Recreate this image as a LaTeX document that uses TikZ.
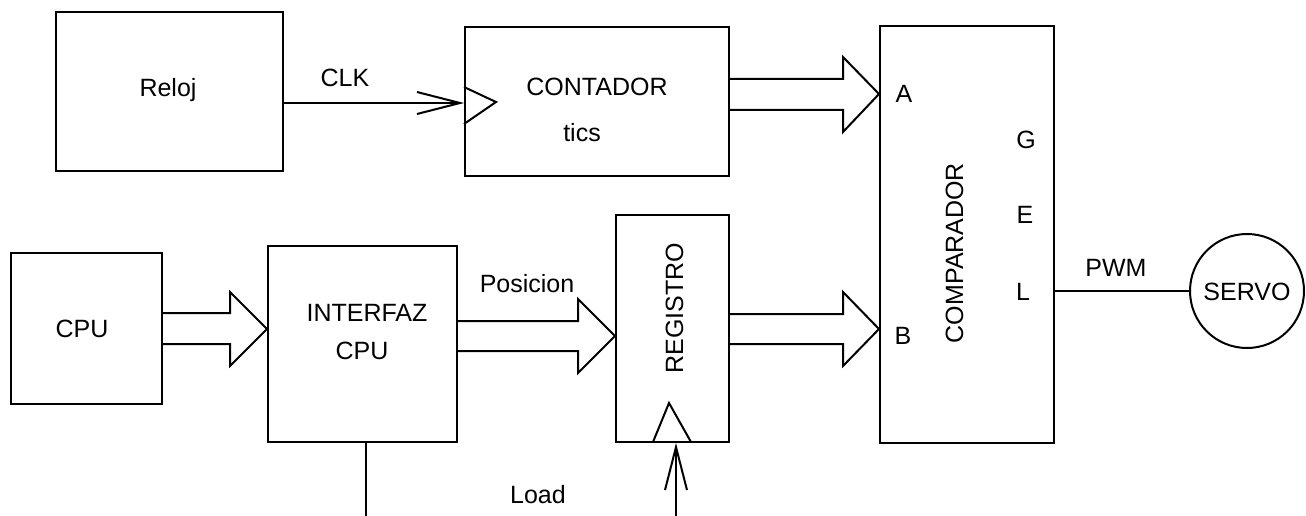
\documentclass[tikz,border=0pt]{standalone}
\usepackage{fontspec}
\setmainfont{Liberation Sans}
\usetikzlibrary{arrows.meta}
\begin{document}
\begin{tikzpicture}[x=1pt,y=-1pt,
  box/.style={draw,line width=2pt,inner sep=0pt,fill=white},
  lbl/.style={inner sep=0pt,text height=18pt,text depth=0pt,font=\fontsize{25pt}{30pt}\selectfont},
  wire/.style={line width=2pt},
  barb/.style={line width=2pt,-{Straight Barb[length=43pt,width=22pt,line width=2pt]}},
  bus/.style={line width=2pt,line join=miter,fill=white}]
\useasboundingbox (0,0) rectangle (1306,516);
% boxes
\node[box,minimum width=227pt,minimum height=159pt] (reloj) at (169.5,91.5) {};
\node[box,minimum width=264pt,minimum height=149pt] (cont) at (597,101.5) {};
\node[box,minimum width=174pt,minimum height=417pt] (comp) at (967,234.5) {};
\node[box,minimum width=113pt,minimum height=227pt] (reg) at (672.5,328.5) {};
\node[box,minimum width=151pt,minimum height=151pt] (cpu) at (86.5,328.5) {};
\node[box,minimum width=189pt,minimum height=196pt] (intf) at (362.5,344) {};
\node[draw,circle,line width=2pt,minimum size=114pt,inner sep=0pt] (servo) at (1247,291) {};
% texts
\node[lbl] (treloj) at (168,88) {Reloj};
\node[lbl] (tcont) at (597,87) {CONTADOR};
\node[lbl] (ttics) at (582,133) {tics};
\node[lbl,rotate=90] (tcomp) at (954,253) {COMPARADOR};
\node[lbl] (tA) at (904,94) {A};
\node[lbl] (tB) at (903,335) {B};
\node[lbl] (tG) at (1026,140) {G};
\node[lbl] (tE) at (1025,214) {E};
\node[lbl] (tL) at (1023,291) {L};
\node[lbl,rotate=90] (treg) at (674,308) {REGISTRO};
\node[lbl] (tcpu) at (82,328) {CPU};
\node[lbl] (tintf) at (367,312) {INTERFAZ};
\node[lbl] (tintf2) at (362,350) {CPU};
\node[lbl] (tservo) at (1247,291) {SERVO};
\node[lbl] (lclk) at (345,78) {CLK};
\node[lbl] (lpos) at (527,283) {Posicion};
\node[lbl] (lload) at (538,494) {Load};
\node[lbl] (lpwm) at (1116,267) {PWM};
% clock triangles
\draw[wire,line join=miter] (cont.west |- 0,87) -- (496,102) -- (cont.west |- 0,124);
\draw[wire,line join=miter] (653,442) -- (669,403) -- (691,442);
% connectors
\coordinate (loadsrc) at (676,516);
\coordinate (intfdown) at (366,516);
\draw[barb] (reloj.east |- 0,103) -- (cont.west |- 0,103);
\draw[barb] (loadsrc) -- (loadsrc |- reg.south);
\draw[wire] (intf.south -| intfdown) -- (intfdown);
\draw[wire] (comp.east |- servo.west) -- (servo.west);
% bus arrows
\draw[bus] (cont.east |- 0,79) -- (843,79) -- (843,57) -- (comp.west |- 0,94) -- (843,132) -- (843,110) -- (cont.east |- 0,110);
\draw[bus] (reg.east |- 0,314) -- (843,314) -- (843,292) -- (comp.west |- 0,329) -- (843,366) -- (843,344) -- (reg.east |- 0,344);
\draw[bus] (intf.east |- 0,321) -- (578,321) -- (578,299) -- (reg.west |- 0,336) -- (578,373) -- (578,351) -- (intf.east |- 0,351);
\draw[bus] (cpu.east |- 0,313) -- (230,313) -- (230,292) -- (intf.west |- 0,329) -- (230,366) -- (230,344) -- (cpu.east |- 0,344);
\end{tikzpicture}
\end{document}
